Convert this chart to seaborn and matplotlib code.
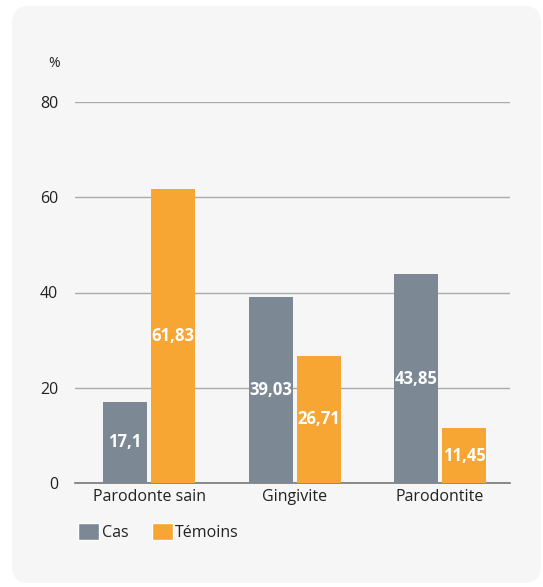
import pandas as pd
import matplotlib.pyplot as plt
import seaborn as sns
from matplotlib.patches import FancyBboxPatch, Patch

# données
categories = ["Parodonte sain", "Gingivite", "Parodontite"]
groups = ["Cas", "Témoins"]
cas = [17.1, 39.03, 43.85]
temoins = [61.83, 26.71, 11.45]
yticks = [0, 20, 40, 60, 80]

colors = {"Cas": "#7d8895", "Témoins": "#f7a533"}

df = pd.DataFrame({
    "categorie": categories * 2,
    "groupe": ["Cas"] * 3 + ["Témoins"] * 3,
    "valeur": cas + temoins,
})

sns.set_style("white")
plt.rcParams['font.family'] = ['Open Sans', 'DejaVu Sans']

fig = plt.figure(figsize=(5.43, 5.87), dpi=100)
fig.patch.set_facecolor("white")

# carte grise arrondie en fond
card = FancyBboxPatch((12 / 543, 4 / 587), 541 / 543 - 12 / 543, 581 / 587 - 4 / 587,
                      boxstyle="round,pad=0,rounding_size=0.03",
                      transform=fig.transFigure, facecolor="#f6f6f6",
                      edgecolor="none", zorder=-10)
fig.patches.append(card)

ax = fig.add_axes([75 / 543, 1 - 483 / 587, 435 / 543, 381 / 587])
ax.set_facecolor("none")

sns.barplot(data=df, x="categorie", y="valeur", hue="groupe", order=categories,
            hue_order=groups, palette=colors, width=0.66, gap=0.08,
            saturation=1, linewidth=0, ax=ax, legend=False, zorder=3)

# étiquettes de valeur au centre des barres
for cont in ax.containers:
    labels = [f"{b.get_height():g}".replace(".", ",") for b in cont]
    ax.bar_label(cont, labels=labels, label_type="center", color="white",
                 fontsize=12, fontweight="bold", zorder=4)

ax.set_ylim(0, 80)
ax.set_xlim(-0.51, 2.48)
ax.set_yticks(yticks)
ax.yaxis.grid(True, color="#aaaaaa", linewidth=1)
ax.set_axisbelow(True)
for s in ["top", "right", "left"]:
    ax.spines[s].set_visible(False)
ax.spines["bottom"].set_color("#777777")
ax.spines["bottom"].set_linewidth(1.2)
ax.tick_params(axis="both", length=0, labelsize=11.5, colors="#222222")
ax.tick_params(axis="y", pad=12)
ax.tick_params(axis="x", pad=4)
ax.set_xlabel("")
ax.set_ylabel("")
ax.text(-0.035, 1.10, "%", transform=ax.transAxes, ha="right", va="center",
        fontsize=10, color="#222222")

handles = [Patch(facecolor=colors[g], label=g) for g in groups]
fig.legend(handles=handles, loc="center left", bbox_to_anchor=(64 / 543, 1 - 532 / 587),
           ncol=2, frameon=False, fontsize=11.5, handlelength=1.3, handleheight=1.3,
           handletextpad=0.15, columnspacing=1.5, labelcolor="#222222")

fig.savefig("out.png", dpi=100)
